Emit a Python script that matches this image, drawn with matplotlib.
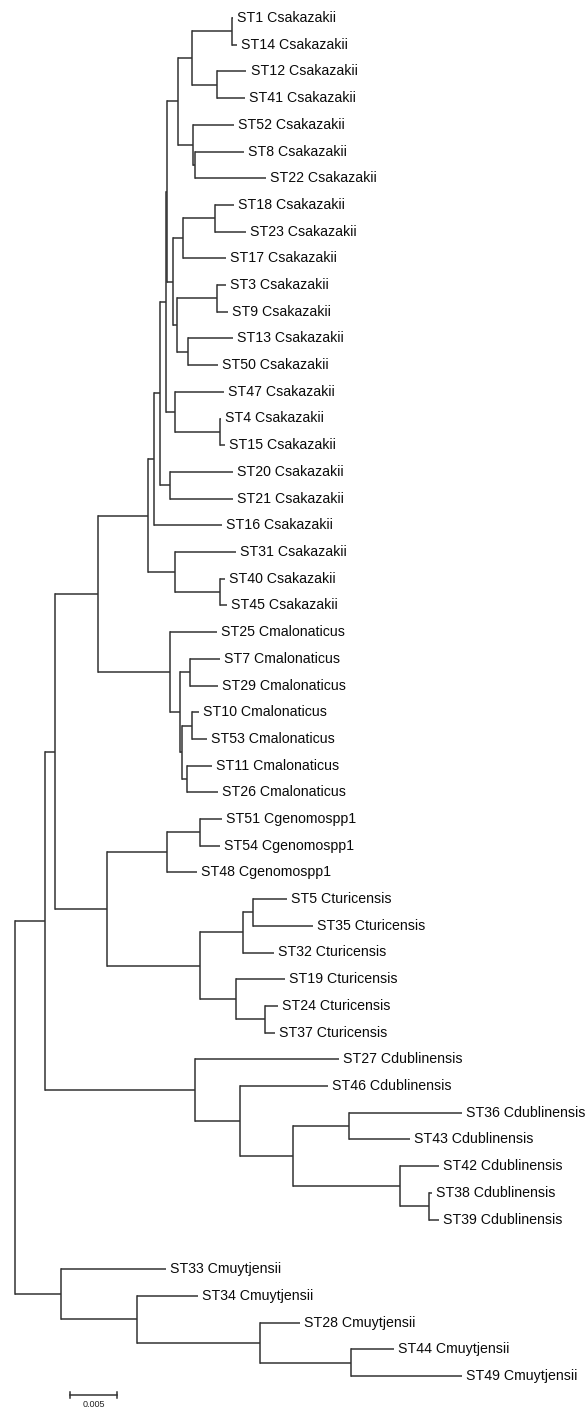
import re
import matplotlib
matplotlib.use("Agg")
import matplotlib.pyplot as plt

# ---------------- data ----------------
# Tree topology with branch lengths (substitutions per site)
newick = (
    "(((((((((("
    "((ST1:0.00014,ST14:0.00057):0.00424,(ST12:0.00318,ST41:0.00302):0.00264):0.00150,"
    "(ST52:0.00438,(ST8:0.00524,ST22:0.00759):0.00021):0.00160"
    "):0.00112,"
    "(((ST18:0.00203,ST23:0.00331):0.00339,ST17:0.00456):0.00113,"
    "((ST3:0.00099,ST9:0.00121):0.00427,(ST13:0.00478,ST50:0.00317):0.00124):0.00043"
    "):0.00056"
    "):0.00013,"
    "(ST47:0.00524,(ST4:0.00011,ST15:0.00053):0.00481):0.00093"
    "):0.00067,"
    "(ST20:0.00673,ST21:0.00673):0.00107"
    "):0.00059,"
    "ST16:0.00721"
    "):0.00069,"
    "(ST31:0.00652,(ST40:0.00053,ST45:0.00075):0.00481):0.00288"
    "):0.00534,"
    "(ST25:0.00502,((ST7:0.00321,ST29:0.00299):0.00107,"
    "((ST10:0.00075,ST53:0.00160):0.00107,(ST11:0.00267,ST26:0.00331):0.00053):0.00021):0.00107):0.00769"
    "):0.00459,"
    "(((ST51:0.00235,ST54:0.00214):0.00353,ST48:0.00321):0.00641,"
    "(((ST5:0.00363,ST35:0.00641):0.00107,ST32:0.00331):0.00459,"
    "(ST19:0.00524,(ST24:0.00134,ST37:0.00107):0.00310):0.00385):0.00994"
    "):0.00556"
    "):0.00107,"
    "(ST27:0.01538,(ST46:0.00940,((ST36:0.01207,ST43:0.00652):0.00598,"
    "(ST42:0.00411,(ST38:0.00032,ST39:0.00101):0.00310):0.01143):0.00566):0.00481):0.01603"
    "):0.00321,"
    "(ST33:0.01122,(ST34:0.00652,(ST28:0.00427,(ST44:0.00459,ST49:0.01186):0.00972):0.01314):0.00812):0.00491"
    ");"
)

csakazakii = ["ST1", "ST14", "ST12", "ST41", "ST52", "ST8", "ST22", "ST18", "ST23", "ST17",
              "ST3", "ST9", "ST13", "ST50", "ST47", "ST4", "ST15", "ST20", "ST21", "ST16",
              "ST31", "ST40", "ST45"]
cmalonaticus = ["ST25", "ST7", "ST29", "ST10", "ST53", "ST11", "ST26"]
cgenomospp1 = ["ST51", "ST54", "ST48"]
cturicensis = ["ST5", "ST35", "ST32", "ST19", "ST24", "ST37"]
cdublinensis = ["ST27", "ST46", "ST36", "ST43", "ST42", "ST38", "ST39"]
cmuytjensii = ["ST33", "ST34", "ST28", "ST44", "ST49"]

scale_value = 0.005
scale_label = "0.005"

species = {}
for names, sp in [(csakazakii, "Csakazakii"), (cmalonaticus, "Cmalonaticus"),
                  (cgenomospp1, "Cgenomospp1"), (cturicensis, "Cturicensis"),
                  (cdublinensis, "Cdublinensis"), (cmuytjensii, "Cmuytjensii")]:
    for n in names:
        species[n] = sp

# extra vertical space (in rows) inserted before a leaf
row_gap = {"ST33": 0.86}


# ---------------- parse newick ----------------
def parse(s):
    tokens = re.findall(r"\(|\)|,|;|:[0-9.eE+-]+|[^(),:;]+", s)
    pos = 0

    def node():
        nonlocal pos
        nd = {"children": [], "name": None, "bl": 0.0}
        if tokens[pos] == "(":
            pos += 1
            while True:
                nd["children"].append(node())
                if tokens[pos] == ",":
                    pos += 1
                    continue
                if tokens[pos] == ")":
                    pos += 1
                    break
        if pos < len(tokens) and tokens[pos] not in "(),;" and not tokens[pos].startswith(":"):
            nd["name"] = tokens[pos].strip()
            pos += 1
        if pos < len(tokens) and tokens[pos].startswith(":"):
            nd["bl"] = float(tokens[pos][1:])
            pos += 1
        return nd

    return node()


tree = parse(newick)

leaves = []
offset = [0.0]


def layout(nd, x):
    nd["x"] = x + nd["bl"]
    if not nd["children"]:
        offset[0] += row_gap.get(nd["name"], 0.0)
        nd["y"] = len(leaves) + offset[0]
        leaves.append(nd)
    else:
        for c in nd["children"]:
            layout(c, nd["x"])
        nd["y"] = 0.5 * (nd["children"][0]["y"] + nd["children"][-1]["y"])


tree["bl"] = 0.0
layout(tree, 0.0)

# ---------------- draw ----------------
W, H = 587, 1408
fig = plt.figure(figsize=(W / 100, H / 100), dpi=100)
ax = fig.add_axes([0, 0, 1, 1])

px = scale_value / 46.8          # data units per pixel (horizontal)
root_px = 15
top_px, step_px = 18, 26.7
ax.set_xlim(-root_px * px, (W - root_px) * px)
ax.set_ylim((H - top_px) / step_px, -top_px / step_px)
ax.axis("off")

lc = "#333333"
lw = 1.1


def draw(nd, parent_x):
    ax.plot([parent_x, nd["x"]], [nd["y"], nd["y"]], color=lc, lw=lw,
            solid_capstyle="butt")
    if nd["children"]:
        ax.plot([nd["x"], nd["x"]], [nd["children"][0]["y"], nd["children"][-1]["y"]],
                color=lc, lw=lw, solid_capstyle="projecting")
        for c in nd["children"]:
            draw(c, nd["x"])
    else:
        ax.annotate(f"{nd['name']} {species[nd['name']]}", (nd["x"], nd["y"]),
                    xytext=(3, 0), textcoords="offset points", va="center", ha="left",
                    fontsize=10.2, family="Liberation Sans", color="#0a0a0a")


for c in tree["children"]:
    draw(c, tree["x"])
ax.plot([tree["x"], tree["x"]], [tree["children"][0]["y"], tree["children"][-1]["y"]],
        color=lc, lw=lw, solid_capstyle="projecting")

# scale bar
sb_x0 = (70 - root_px) * px
sb_y = (1395 - top_px) / step_px
tick = 3 / step_px
ax.plot([sb_x0, sb_x0 + scale_value], [sb_y, sb_y], color=lc, lw=lw)
ax.plot([sb_x0, sb_x0], [sb_y - tick, sb_y + tick], color=lc, lw=lw)
ax.plot([sb_x0 + scale_value] * 2, [sb_y - tick, sb_y + tick], color=lc, lw=lw)
ax.text(sb_x0 + scale_value / 2, sb_y + 5 / step_px, scale_label, ha="center", va="top",
        fontsize=6.5, family="Liberation Sans", color="#222222")

fig.savefig("out.png", dpi=100)
